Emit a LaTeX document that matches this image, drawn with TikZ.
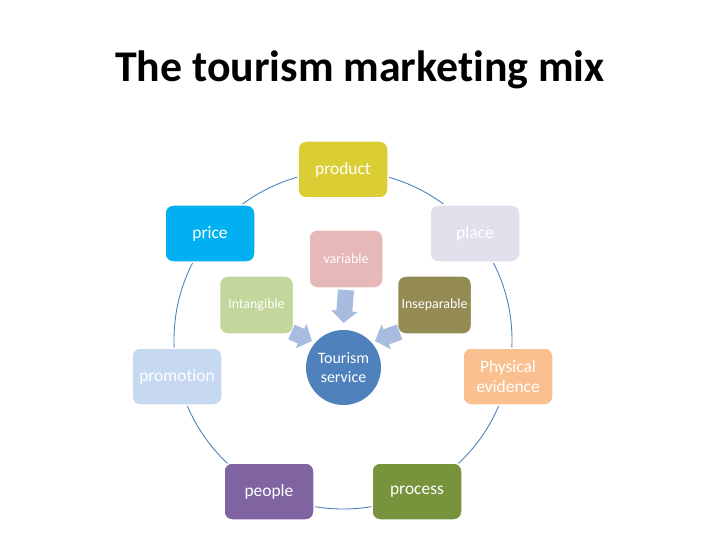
\documentclass[tikz,border=0pt]{standalone}
\usepackage{fontspec}
\setmainfont{Carlito}[Ligatures=NoCommon]
\usetikzlibrary{arrows.meta,calc}

\definecolor{ringblue}{RGB}{79,129,189}
\definecolor{arrowblue}{RGB}{167,188,222}
\definecolor{productc}{RGB}{218,206,52}
\definecolor{placec}{RGB}{228,223,236}
\definecolor{pricec}{RGB}{0,176,240}
\definecolor{promoc}{RGB}{198,217,241}
\definecolor{physc}{RGB}{250,192,144}
\definecolor{peoplec}{RGB}{128,100,162}
\definecolor{processc}{RGB}{119,147,60}
\definecolor{variablec}{RGB}{230,185,184}
\definecolor{intangc}{RGB}{195,214,155}
\definecolor{insepc}{RGB}{148,138,84}
\definecolor{tourc}{RGB}{79,129,189}

\begin{document}
\begin{tikzpicture}[x=1bp,y=-1bp,every node/.style={outer sep=0pt},
    mixbox/.style={rectangle,rounded corners=8bp,draw=white,line width=1.5bp,
    minimum width=90bp,minimum height=57bp,text=white,align=center,
    font=\fontsize{17.5}{20}\selectfont},
    trait/.style={mixbox,minimum width=74bp,minimum height=58bp,
    font=\fontsize{14}{16}\selectfont},
    barrow/.style={draw=arrowblue,line width=16bp,
    -{Triangle[width=26bp,length=12bp]}}]

   \useasboundingbox (0,0) rectangle (728,546);
   \node[font=\bfseries\fontsize{44}{50}\selectfont] (title) at (360,70)
    {The tourism marketing mix};

   % ring behind the seven P's
   \draw[ringblue,line width=0.9bp] (343,340) circle[radius=169bp];

   \foreach \N/\X/\Y/\C/\T in {prod/343/169.5/productc/product,
     place/475/233.5/placec/place,price/210/233.5/pricec/price,
     promo/177/376.5/promoc/promotion,phys/508/376.5/physc/{Physical\\evidence},
     people/269/491.5/peoplec/people,process/417/491.5/processc/process}
     \node[mixbox,fill=\C] (\N) at (\X,\Y) {\T};

   \node[trait,fill=variablec] (var) at (346,259) {variable};
   \node[trait,fill=intangc] (intg) at (256.5,305) {Intangible};
   \node[trait,fill=insepc] (insep) at (434.5,305) {Inseparable};

   \node[circle,fill=tourc,minimum size=75bp,text=white,align=center,
     font=\fontsize{16}{19}\selectfont] (ts) at (343.5,367.5) {Tourism\\service};

   \draw[barrow] ([yshift=-2bp]var.south) -- ([yshift=7bp]ts.north);
   \draw[barrow] ([shift={(-2bp,2bp)}]intg.south east) -- ([xshift=-5bp]ts.north west);
   \draw[barrow] ([shift={(2bp,2bp)}]insep.south west) -- ([xshift=5bp]ts.north east);
\end{tikzpicture}
\end{document}
